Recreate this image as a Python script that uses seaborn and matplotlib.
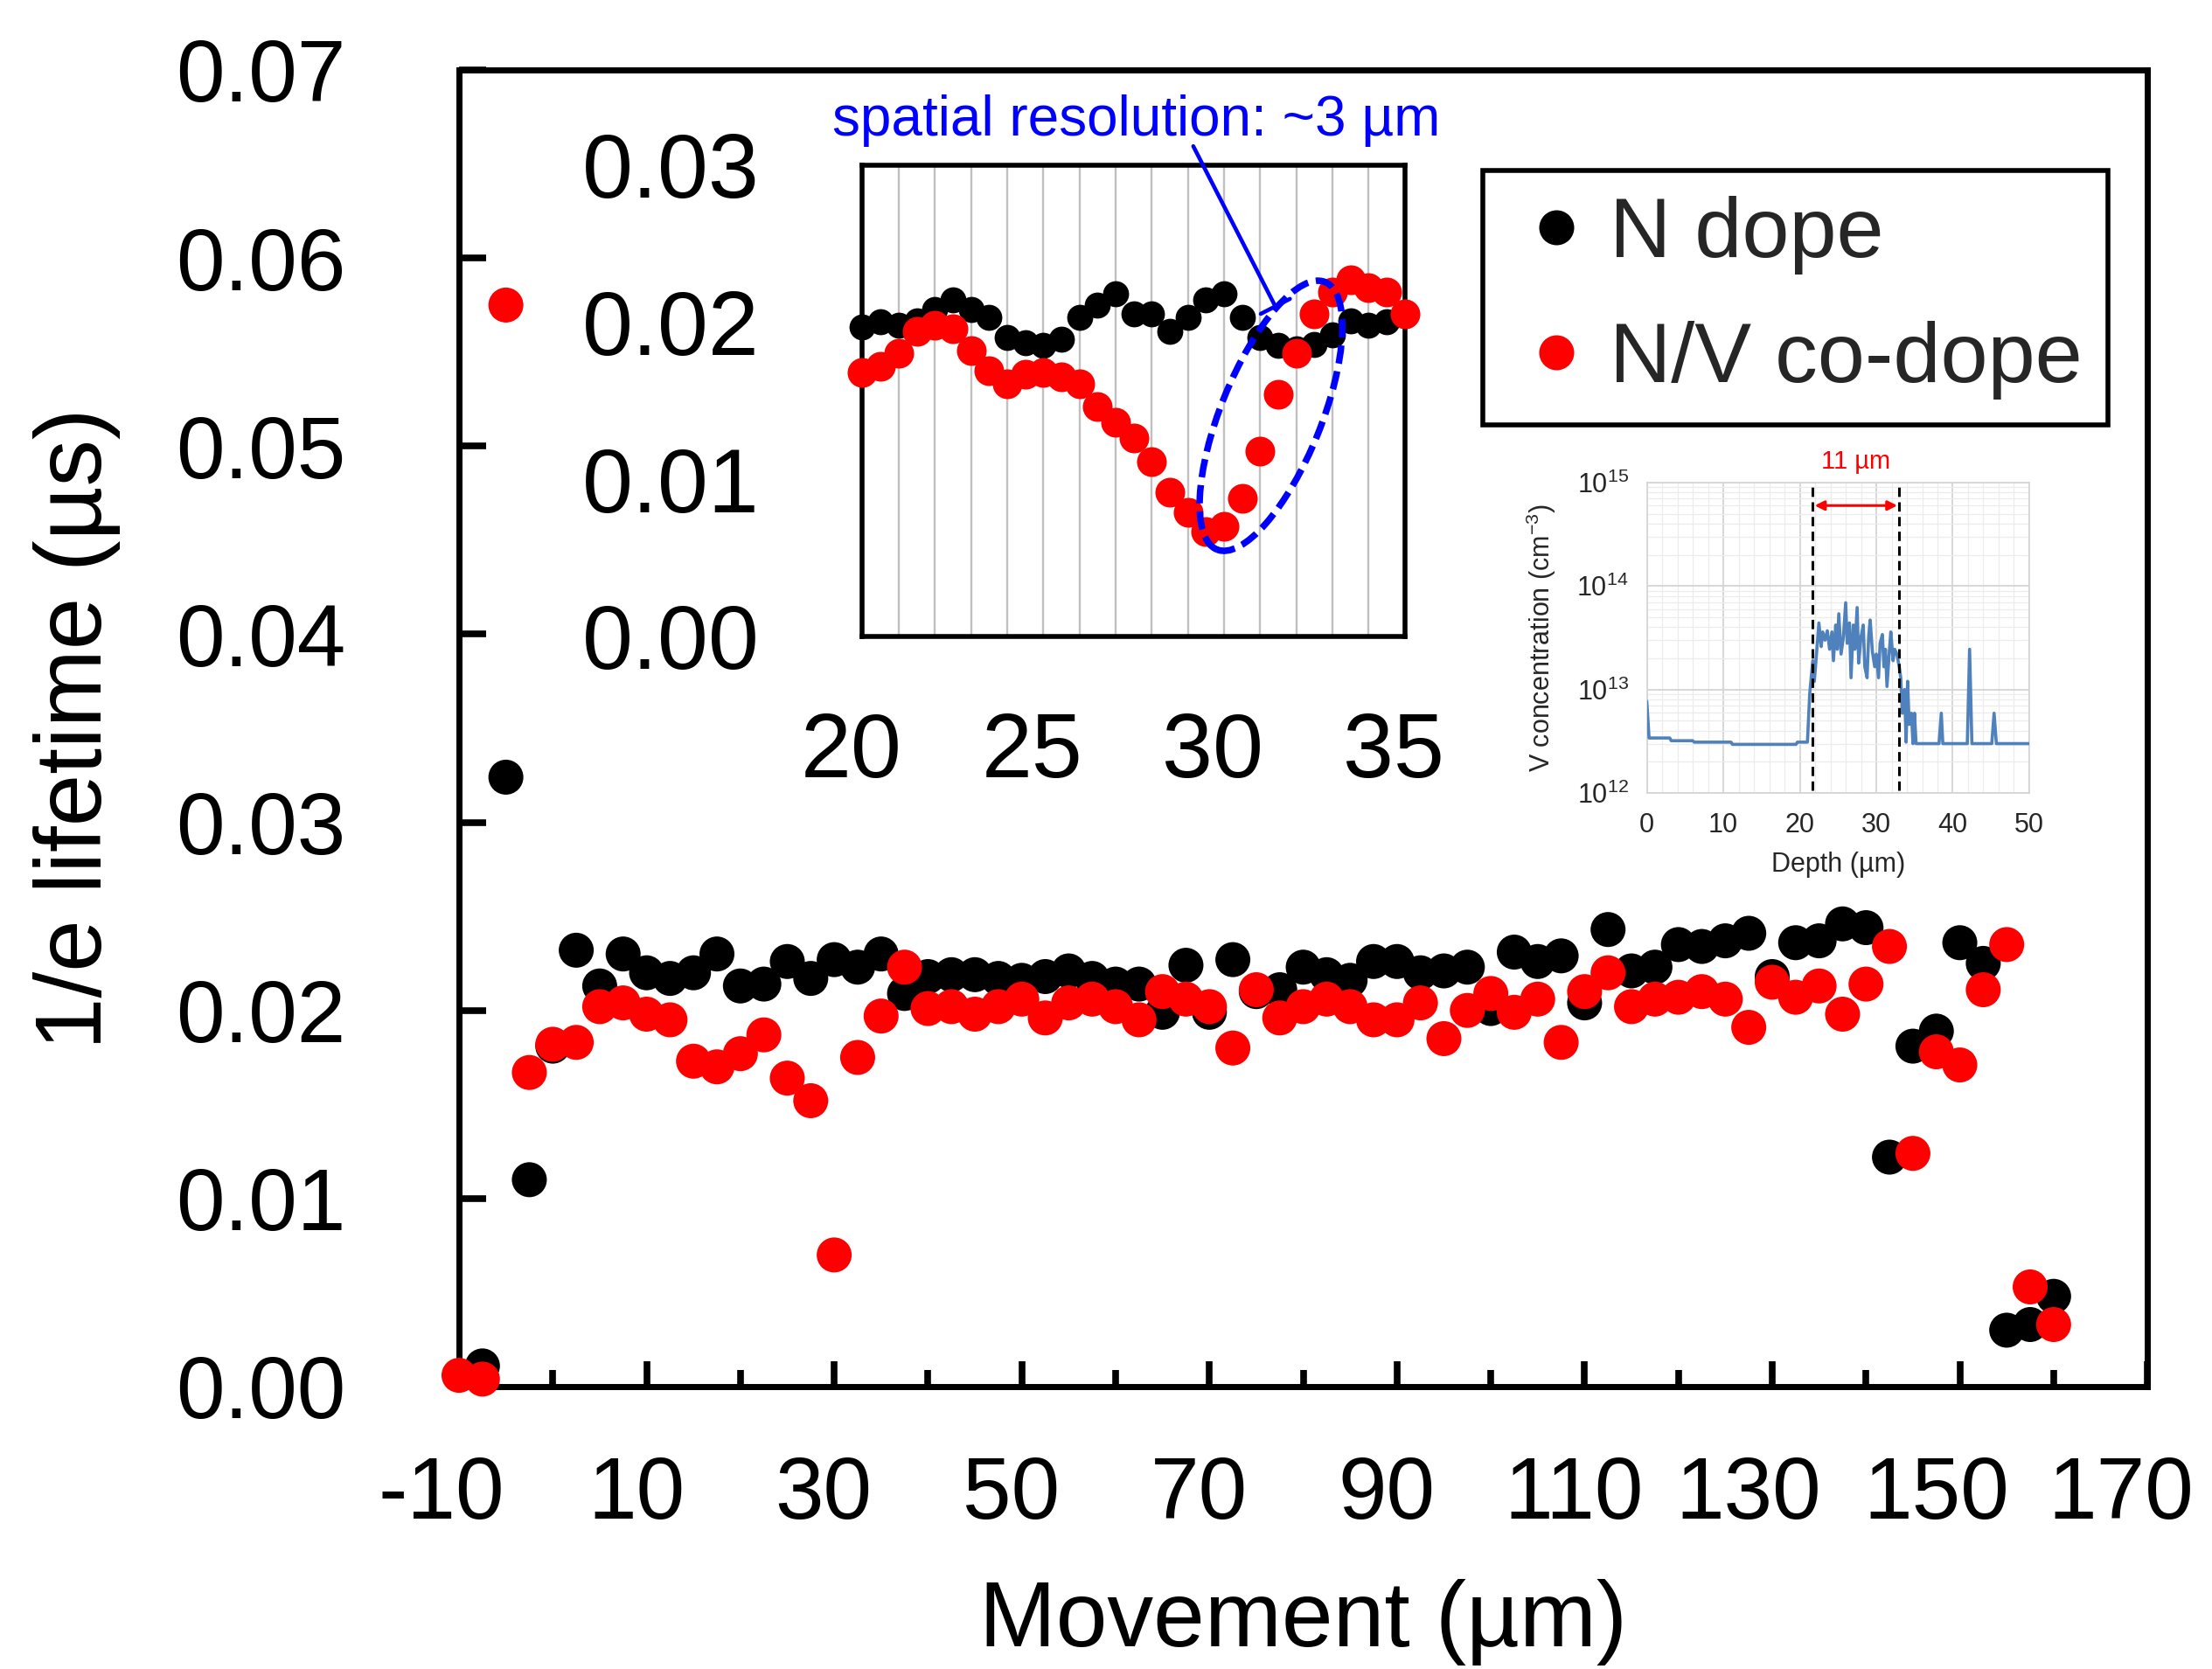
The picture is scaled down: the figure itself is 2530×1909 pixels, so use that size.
import numpy as np
import pandas as pd
import matplotlib
matplotlib.use("Agg")
import matplotlib.pyplot as plt
import matplotlib.transforms as mtransforms
from matplotlib.patches import Ellipse
from matplotlib.lines import Line2D
from matplotlib.ticker import FixedLocator, FixedFormatter, LogLocator, NullFormatter, MultipleLocator
import seaborn as sns

# ---------------- main chart data ----------------
movement = [-10, -7.5, -5, -2.5, 0, 2.5, 5, 7.5, 10, 12.5, 15, 17.5, 20, 22.5, 25, 27.5,
            30, 32.5, 35, 37.5, 40, 42.5, 45, 47.5, 50, 52.5, 55, 57.5, 60, 62.5, 65, 67.5,
            70, 72.5, 75, 77.5, 80, 82.5, 85, 87.5, 90, 92.5, 95, 97.5, 100, 102.5, 105, 107.5,
            110, 112.5, 115, 117.5, 120, 122.5, 125, 127.5, 130, 132.5, 135, 137.5, 140, 142.5,
            145, 147.5, 150, 152.5, 155, 157.5, 160]
n_dope = [np.nan, 0.0011, 0.0324, 0.0110, 0.0181, 0.0232, 0.0213, 0.0230, 0.0220, 0.0217,
          0.0220, 0.0230, 0.0213, 0.0214, 0.0226, 0.0217, 0.0227, 0.0223, 0.0230, 0.0209,
          0.0218, 0.0219, 0.0219, 0.0217, 0.0216, 0.0218, 0.0221, 0.0217, 0.0214, 0.0214,
          0.0199, 0.0224, 0.0199, 0.0227, 0.0210, 0.0211, 0.0223, 0.0219, 0.0216, 0.0226,
          0.0226, 0.0220, 0.0221, 0.0223, 0.0201, 0.0231, 0.0226, 0.0229, 0.0204, 0.0243,
          0.0221, 0.0223, 0.0235, 0.0234, 0.0237, 0.0241, 0.0218, 0.0236, 0.0237, 0.0246,
          0.0244, 0.0122, 0.0181, 0.0189, 0.0236, 0.0225, 0.0030, 0.0033, 0.0048]
nv_codope = [0.0006, 0.0004, 0.0575, 0.0167, 0.0182, 0.0183, 0.0202, 0.0204, 0.0198, 0.0195,
             0.0173, 0.0170, 0.0177, 0.0187, 0.0164, 0.0152, 0.0070, 0.0175, 0.0197, 0.0223,
             0.0201, 0.0202, 0.0198, 0.0202, 0.0206, 0.0196, 0.0204, 0.0206, 0.0202, 0.0195,
             0.0210, 0.0206, 0.0202, 0.0180, 0.0211, 0.0196, 0.0202, 0.0206, 0.0202, 0.0195,
             0.0195, 0.0204, 0.0185, 0.0200, 0.0209, 0.0199, 0.0206, 0.0183, 0.0210, 0.0220,
             0.0202, 0.0206, 0.0207, 0.0210, 0.0206, 0.0191, 0.0215, 0.0207, 0.0213, 0.0198,
             0.0214, 0.0234, 0.0124, 0.0178, 0.0171, 0.0211, 0.0235, 0.0053, 0.0033]
series_names = ["N dope", "N/V co-dope"]
series_colors = ["black", "red"]

x_major_ticks = [-10, 10, 30, 50, 70, 90, 110, 130, 150, 170]
x_tick_labels = ["-10", "10", "30", "50", "70", "90", "110", "130", "150", "170"]
x_minor_ticks = [0, 20, 40, 60, 80, 100, 120, 140, 160]
y_ticks = [0.00, 0.01, 0.02, 0.03, 0.04, 0.05, 0.06, 0.07]
y_tick_labels = ["0.00", "0.01", "0.02", "0.03", "0.04", "0.05", "0.06", "0.07"]

# ---------------- inset 1 (zoom 20-35 um) ----------------
inset_x = [20.0, 20.5, 21.0, 21.5, 22.0, 22.5, 23.0, 23.5, 24.0, 24.5, 25.0, 25.5, 26.0, 26.5,
           27.0, 27.5, 28.0, 28.5, 29.0, 29.5, 30.0, 30.5, 31.0, 31.5, 32.0, 32.5, 33.0, 33.5,
           34.0, 34.5, 35.0]
inset_n = [0.0197, 0.0200, 0.0198, 0.0201, 0.0208, 0.0214, 0.0208, 0.0203, 0.0190, 0.0187,
           0.0185, 0.0189, 0.0203, 0.0211, 0.0218, 0.0205, 0.0205, 0.0194, 0.0203, 0.0214,
           0.0218, 0.0203, 0.0190, 0.0185, 0.0183, 0.0186, 0.0192, 0.0201, 0.0198, 0.0200,
           0.0204]
inset_nv = [0.0168, 0.0172, 0.0180, 0.0194, 0.0198, 0.0196, 0.0182, 0.0169, 0.0161, 0.0167,
            0.0168, 0.0165, 0.0161, 0.0146, 0.0136, 0.0126, 0.0111, 0.0092, 0.0079, 0.0067,
            0.0070, 0.0088, 0.0118, 0.0154, 0.0180, 0.0205, 0.0219, 0.0227, 0.0222, 0.0219,
            0.0205]
inset_x_major = [20, 25, 30, 35]
inset_x_labels = ["20", "25", "30", "35"]
inset_x_minor = [21, 22, 23, 24, 26, 27, 28, 29, 31, 32, 33, 34]
inset_y_ticks = [0.00, 0.01, 0.02, 0.03]
inset_y_labels = ["0.00", "0.01", "0.02", "0.03"]
annot_text = "spatial resolution: ~3 \u00b5m"
annot_text_pos = (27.58, 0.03186)
annot_line_start = (29.15, 0.03119)
annot_line_end = (31.42, 0.02100)
ellipse_center = (31.30, 0.01404)

# ---------------- inset 2 (V depth profile) ----------------
depth = [0.0, 0.3, 3.0, 3.2, 6.0, 6.2, 11.0, 11.2, 19.5, 19.7, 21.0, 21.3, 21.7, 21.9,
         22.3, 22.5, 22.8, 23.0, 23.3, 23.6, 23.9, 24.2, 24.4, 24.7, 24.9, 25.1, 25.4, 25.7,
         26.0, 26.2, 26.5, 26.7, 27.0, 27.2, 27.5, 27.7, 28.0, 28.3, 28.5, 28.8, 29.0, 29.2,
         29.5, 29.8, 30.0, 30.3, 30.5, 30.8, 31.0, 31.2, 31.4, 31.7, 31.9, 32.2, 32.4, 32.7,
         33.0, 33.2, 33.4, 33.7, 33.9, 34.1, 34.3, 34.6, 34.8, 35.0, 35.2, 38.2, 38.5, 38.7,
         41.9, 42.2, 42.5, 45.1, 45.4, 45.7, 50.0]
v_conc = [7.7e12, 3.4e12, 3.4e12, 3.2e12, 3.2e12, 3.1e12, 3.1e12, 2.95e12, 2.95e12, 3.1e12,
          3.1e12, 9.1e12, 1.9e13, 1.2e13, 2.8e13, 4.4e13, 2.6e13, 3.6e13, 3.0e13, 3.7e13,
          2.45e13, 3.6e13, 1.9e13, 4.2e13, 2.45e13, 5.4e13, 2.2e13, 3.2e13, 6.9e13, 2.8e13,
          4.4e13, 1.3e13, 4.2e13, 2.45e13, 6.2e13, 1.8e13, 3.2e13, 4.2e13, 1.66e13, 1.3e13,
          3.2e13, 4.7e13, 2.3e13, 1.66e13, 2.2e13, 1.3e13, 2.8e13, 3.4e13, 1.66e13, 2.45e13,
          1.07e13, 2.3e13, 3.6e13, 1.9e13, 2.45e13, 2.2e13, 1.66e13, 1.3e13, 5.9e12, 1.0e13,
          3.1e12, 1.2e13, 4.6e12, 5.9e12, 3.0e12, 5.9e12, 3.0e12, 3.0e12, 5.9e12, 3.0e12,
          3.0e12, 2.45e13, 3.0e12, 3.0e12, 5.9e12, 3.0e12, 3.0e12]
boundaries = [21.7, 33.0]
arrow_y = 6.0e14
depth_ticks = [0, 10, 20, 30, 40, 50]
conc_ticks = [1e12, 1e13, 1e14, 1e15]

# ---------------- style ----------------
sns.set_theme(style="white")
plt.rcParams["font.family"] = ["Liberation Sans", "DejaVu Sans"]
plt.rcParams["mathtext.fontset"] = "custom"
plt.rcParams["mathtext.rm"] = "Liberation Sans"
plt.rcParams["mathtext.it"] = "Liberation Sans:italic"
plt.rcParams["mathtext.bf"] = "Liberation Sans:bold"

DPI = 100
fig = plt.figure(figsize=(25.3, 19.09), dpi=DPI)
fig.patch.set_facecolor("white")

# ================= main axes =================
ax = fig.add_axes([0.2075, 0.1692, 0.7633, 0.7889])
df = pd.DataFrame({
    "Movement": movement * 2,
    "value": n_dope + nv_codope,
    "series": [series_names[0]] * len(movement) + [series_names[1]] * len(movement),
}).dropna()
sns.scatterplot(data=df, x="Movement", y="value", hue="series",
                palette=dict(zip(series_names, series_colors)), s=830, linewidth=0,
                legend=False, ax=ax, zorder=5, clip_on=False)
ax.set_xlim(-10, 170)
ax.set_ylim(0, 0.07)
ax.xaxis.set_major_locator(FixedLocator(x_major_ticks))
ax.xaxis.set_major_formatter(FixedFormatter(x_tick_labels))
ax.xaxis.set_minor_locator(FixedLocator(x_minor_ticks))
ax.yaxis.set_major_locator(FixedLocator(y_ticks))
ax.yaxis.set_major_formatter(FixedFormatter(y_tick_labels))
ax.tick_params(axis="x", which="major", direction="in", length=21, width=5.5,
               labelsize=72, pad=56, bottom=True, top=False, colors="black")
ax.tick_params(axis="x", which="minor", direction="in", length=14, width=5.5,
               bottom=True, top=False, color="black")
ax.tick_params(axis="y", which="major", direction="in", length=22, width=5.5,
               labelsize=72, pad=93, left=True, right=False, colors="black")
for sp in ax.spines.values():
    sp.set_linewidth(5)
    sp.set_color("black")
ax.set_xlabel("Movement (\u00b5m)", fontsize=76, color="black")
ax.xaxis.set_label_coords(0.5, -0.146)
ax.set_ylabel("1/e lifetime (\u00b5s)", fontsize=77, color="black")
ax.yaxis.set_label_coords(-0.2005, 0.5)

handles = [Line2D([0], [0], marker="o", ls="", markersize=28.8, markerfacecolor=c,
                  markeredgewidth=0) for c in series_colors]
leg = ax.legend(handles, series_names, loc="upper left", bbox_to_anchor=(0.6064, 0.9236),
                borderaxespad=0, frameon=True, fancybox=False, edgecolor="black",
                fontsize=70, borderpad=0.30, handlelength=1.12, handletextpad=0.07,
                labelspacing=0.54, framealpha=1)
leg.get_frame().set_linewidth(4)

# small horizontal nudges of the x tick labels (pixels)
x_label_nudge = [-20, -12, -12, -12, -12, -12, -12, -27, -27, -30]
for lbl, dx in zip(ax.get_xticklabels(), x_label_nudge):
    lbl.set_transform(lbl.get_transform() +
                      mtransforms.ScaledTranslation(dx / DPI, 0, fig.dpi_scale_trans))

# ================= inset 1 =================
ax_in = fig.add_axes([0.38992, 0.61865, 0.24514, 0.28256])
ax_in.set_facecolor("white")
sns.scatterplot(x=inset_x, y=inset_n, color=series_colors[0], s=460, linewidth=0,
                ax=ax_in, zorder=5, clip_on=False, legend=False)
sns.scatterplot(x=inset_x, y=inset_nv, color=series_colors[1], s=600, linewidth=0,
                ax=ax_in, zorder=6, clip_on=False, legend=False)
ax_in.set_xlim(20, 35)
ax_in.set_ylim(0, 0.03)
ax_in.xaxis.set_major_locator(FixedLocator(inset_x_major))
ax_in.xaxis.set_major_formatter(FixedFormatter(inset_x_labels))
ax_in.xaxis.set_minor_locator(FixedLocator(inset_x_minor))
ax_in.yaxis.set_major_locator(FixedLocator(inset_y_ticks))
ax_in.yaxis.set_major_formatter(FixedFormatter(inset_y_labels))
ax_in.set_axisbelow(True)
ax_in.xaxis.grid(True, which="both", color="#c0c0c0", lw=1.7)
ax_in.yaxis.grid(False)
ax_in.tick_params(axis="x", which="major", direction="in", length=24, width=4,
                  labelsize=75, pad=62, colors="black")
ax_in.tick_params(axis="x", which="minor", direction="in", length=18, width=4, color="black")
ax_in.tick_params(axis="y", which="major", direction="in", length=23.5, width=4,
                  labelsize=75, pad=85, colors="black")
for sp in ax_in.spines.values():
    sp.set_linewidth(4)
    sp.set_color("black")
ax_in.set_xlabel("")
ax_in.set_ylabel("")
off_in = mtransforms.ScaledTranslation(-13 / DPI, 0, fig.dpi_scale_trans)
for lbl in ax_in.get_xticklabels():
    lbl.set_transform(lbl.get_transform() + off_in)

ax_in.text(annot_text_pos[0], annot_text_pos[1], annot_text, color="#0000ff", fontsize=46,
           ha="center", va="baseline", clip_on=False)
ax_in.annotate("", xy=annot_line_end, xytext=annot_line_start, xycoords="data",
               textcoords="data", annotation_clip=False,
               arrowprops=dict(arrowstyle="-[, widthB=0.45, lengthB=0", color="#0000ff",
                               lw=3.3, shrinkA=0, shrinkB=0, mutation_scale=30))
ell_trans = fig.dpi_scale_trans + mtransforms.ScaledTranslation(
    ellipse_center[0], ellipse_center[1], ax_in.transData)
ell = Ellipse((0, 0), width=1.15, height=3.3, angle=-22, fill=False, edgecolor="#0000ff",
              lw=5.4, linestyle=(0, (2.8, 1.2)), transform=ell_trans, clip_on=False, zorder=10)
fig.add_artist(ell)

# ================= inset 2 =================
ax2 = fig.add_axes([0.74447, 0.52488, 0.17292, 0.18596])
ax2.set_facecolor("white")
sns.lineplot(x=depth, y=v_conc, color="#4F81BD", lw=2.6, ax=ax2, sort=False,
             estimator=None, zorder=4)
ax2.set_yscale("log")
ax2.set_xlim(0, 50)
ax2.set_ylim(1e12, 1e15)
ax2.xaxis.set_major_locator(FixedLocator(depth_ticks))
ax2.xaxis.set_minor_locator(MultipleLocator(2))
ax2.yaxis.set_major_locator(FixedLocator(conc_ticks))
ax2.yaxis.set_minor_locator(LogLocator(base=10, subs=np.arange(2, 10)))
ax2.yaxis.set_minor_formatter(NullFormatter())
ax2.grid(True, which="major", color="#d4d4d4", lw=1.3)
ax2.grid(True, which="minor", color="#ececec", lw=0.9)
ax2.set_axisbelow(True)
ax2.tick_params(axis="both", which="both", length=0, labelsize=22, colors="#262626")
ax2.tick_params(axis="x", pad=16)
ax2.tick_params(axis="y", pad=15)
for sp in ax2.spines.values():
    sp.set_linewidth(1.2)
    sp.set_color("#d4d4d4")
ax2.vlines(boundaries, 1.07e12, 1e15, colors="black", linestyles=(0, (3.5, 2)), lw=2.2,
           zorder=5)
ax2.annotate("", xy=(boundaries[1] - 0.25, arrow_y), xytext=(boundaries[0] + 0.25, arrow_y),
             arrowprops=dict(arrowstyle="<|-|>", color="red", lw=2.2, mutation_scale=16,
                             shrinkA=0, shrinkB=0))
ax2.text(sum(boundaries) / 2, 1.068, "11 \u00b5m", color="red", fontsize=21, ha="center",
         va="center", transform=ax2.get_xaxis_transform())
ax2.set_xlabel("Depth (\u00b5m)", fontsize=22, color="#262626")
ax2.xaxis.set_label_coords(0.5, -0.19)
ax2.set_ylabel("V concentration (cm$^{-3}$)", fontsize=22, color="#262626")
ax2.yaxis.set_label_coords(-0.231, 0.5)

fig.savefig("out.png", dpi=DPI, facecolor="white")
